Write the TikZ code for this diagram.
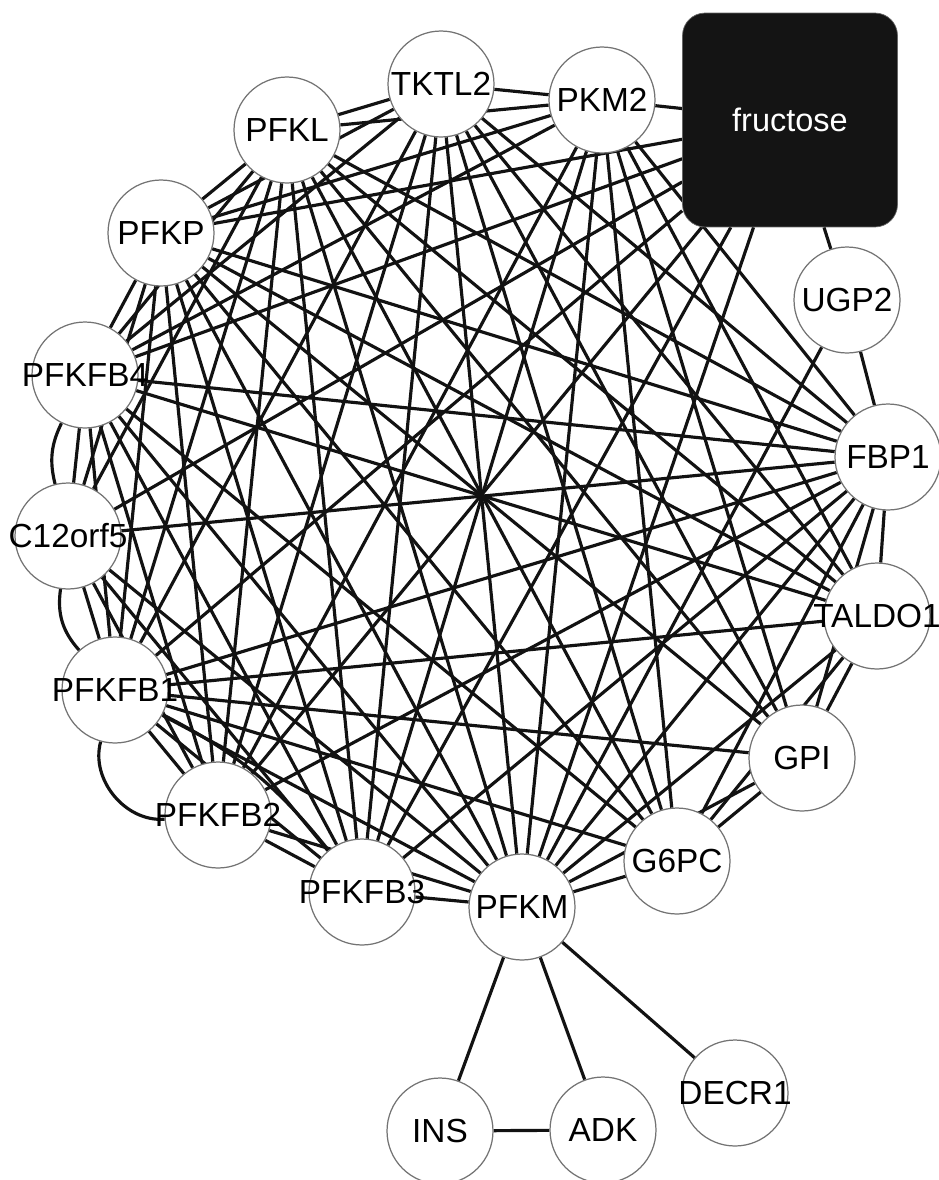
\documentclass[tikz,border=0pt]{standalone}
\usepackage{fontspec}
\setmainfont{Liberation Sans}
\usetikzlibrary{positioning,shapes}
\pgfdeclarelayer{bg}
\pgfsetlayers{bg,main}
\newcommand{\gname}[1]{\makebox[0pt]{#1}}

\begin{document}
\begin{tikzpicture}[x=0.02cm,y=-0.02cm,
                    main node/.style={circle,draw=black!55,line width=0.7pt,fill=white,
                                      minimum size=2.12cm,inner sep=0pt,
                                      font=\fontsize{19}{19}\selectfont},
                    sugar node/.style={rectangle,rounded corners=0.45cm,draw=black!60,
                                       fill=black!92,text=white,minimum width=4.3cm,
                                       minimum height=4.28cm,font=\fontsize{18.5}{18.5}\selectfont},
                    link/.style={draw=black!93,line width=1.8pt}
                   ]
  \useasboundingbox (0,0) rectangle (939,1180);
  \node[sugar node] (fru) at (790,120) {fructose};
  \node[main node] (pkm) at (602,100) {\gname{PKM2}};
  \node[main node] (tkt) at (441,84) {\gname{TKTL2}};
  \node[main node] (pfkl) at (287,130) {\gname{PFKL}};
  \node[main node] (pfkp) at (161,233) {\gname{PFKP}};
  \node[main node] (fb4) at (85,375) {\gname{PFKFB4}};
  \node[main node] (cor) at (68,536) {\gname{C12orf5}};
  \node[main node] (fb1) at (115,690) {\gname{PFKFB1}};
  \node[main node] (fb2) at (218,815) {\gname{PFKFB2}};
  \node[main node] (fb3) at (362,892) {\gname{PFKFB3}};
  \node[main node] (pfkm) at (522,907) {\gname{PFKM}};
  \node[main node] (gsp) at (677,861) {\gname{G6PC}};
  \node[main node] (gpi) at (802,758) {\gname{GPI}};
  \node[main node] (tal) at (877,616) {\gname{TALDO1}};
  \node[main node] (fbp) at (888,457) {\gname{FBP1}};
  \node[main node] (ugp) at (847,300) {\gname{UGP2}};
  \node[main node] (dec) at (735,1093) {\gname{DECR1}};
  \node[main node] (adk) at (603,1130) {\gname{ADK}};
  \node[main node] (ins) at (440,1131) {\gname{INS}};

  \begin{pgfonlayer}{bg}
  \begin{scope}[every edge/.style={link}]
    % phosphofructokinase group
    \path (pfkl) edge (pfkp) (pfkl) edge (pfkm) (pfkl) edge (fb1) (pfkl) edge (fb2)
          (pfkl) edge (fb3) (pfkl) edge (fb4) (pfkl) edge (cor) (pfkl) edge (fbp)
          (pfkp) edge (pfkm) (pfkp) edge (fb1) (pfkp) edge (fb2) (pfkp) edge (fb3)
          (pfkp) edge (fb4) (pfkp) edge (cor) (pfkp) edge (fbp)
          (pfkm) edge (fb1) (pfkm) edge (fb2) (pfkm) edge (fb3) (pfkm) edge (fb4)
          (pfkm) edge (cor) (pfkm) edge (fbp)
          (fb1) edge (fb2) (fb1) edge (fb3) (fb1) edge (fb4) (fb1) edge (cor) (fb1) edge (fbp)
          (fb2) edge (fb3) (fb2) edge (fb4) (fb2) edge (cor) (fb2) edge (fbp)
          (fb3) edge (fb4) (fb3) edge (cor) (fb3) edge (fbp)
          (fb4) edge (cor) (fb4) edge (fbp) (cor) edge (fbp);
    % fructose
    \path (fru) edge (pkm) (fru) edge (ugp) (fru) edge (pfkp) (fru) edge (fb4)
          (fru) edge (fb1) (fru) edge (fb2) (fru) edge (fb3) (fru) edge (pfkm) (fru) edge (cor);
    % PKM2 and TKTL2
    \path (pkm) edge (tkt) (pkm) edge (pfkl) (pkm) edge (pfkp) (pkm) edge (pfkm)
          (pkm) edge (fb3) (pkm) edge (fb2) (pkm) edge (gsp) (pkm) edge (gpi)
          (pkm) edge (tal) (pkm) edge (fbp) (pkm) edge (fb4);
    \path (tkt) edge (pfkl) (tkt) edge (pfkp) (tkt) edge (fb4) (tkt) edge (fb1)
          (tkt) edge (fb2) (tkt) edge (fb3) (tkt) edge (pfkm) (tkt) edge (gpi)
          (tkt) edge (tal) (tkt) edge (fbp) (tkt) edge (gsp);
    % right side
    \path (ugp) edge (fbp) (ugp) edge (pfkm)
          (tal) edge (fbp) (tal) edge (gpi) (tal) edge (gsp) (tal) edge (pfkm)
          (tal) edge (pfkl) (tal) edge (pfkp) (tal) edge (fb4) (tal) edge (fb1)
          (gpi) edge (fbp) (gpi) edge (gsp) (gpi) edge (pfkm) (gpi) edge (pfkl)
          (gpi) edge (pfkp) (gpi) edge (fb1)
          (gsp) edge (fbp) (gsp) edge (pfkm) (gsp) edge (pfkl) (gsp) edge (pfkp)
          (gsp) edge (fb4) (gsp) edge (fb1);
    % bottom
    \path (pfkm) edge (dec) (pfkm) edge (adk) (pfkm) edge (ins) (ins) edge (adk);
    % second links drawn bent
    \path (fb4) edge[bend right=20] (cor) (cor) edge[bend right=25] (fb1)
          (fb1) edge[bend right=55] (fb2) (fb1) edge[bend left=12] (fb3);
  \end{scope}
  \end{pgfonlayer}
\end{tikzpicture}
\end{document}
